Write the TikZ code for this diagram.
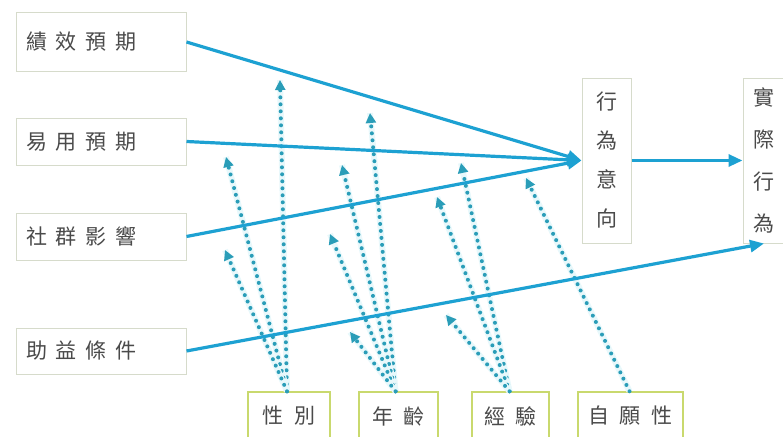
\documentclass[tikz,border=0pt]{standalone}
\usepackage{fontspec}
\newfontfamily\cjk{Noto Sans CJK TC}
\usetikzlibrary{arrows.meta,calc}
\definecolor{sol}{HTML}{1DA1D2}
\definecolor{dotc}{HTML}{2A9DB8}
\definecolor{halo}{HTML}{E8F8FB}
\definecolor{lbord}{HTML}{D6DBCB}
\definecolor{bbord}{HTML}{C9D96E}
\definecolor{txt}{HTML}{4A4A4A}
\newcommand\kgap{\hspace{9pt}}
\newcommand\kgapb{\hspace{11pt}}
\begin{document}
\begin{tikzpicture}[x=1pt,y=-1pt,
  lbox/.style={draw=lbord, line width=1pt, fill=white, minimum width=170pt,
    text width=150pt, inner xsep=10pt, inner ysep=0pt, align=left,
    font=\cjk\fontsize{21}{21}\selectfont, text=txt},
  vbox/.style={draw=lbord, line width=1pt, fill=white, inner sep=0pt,
    align=center, text=txt},
  bbox/.style={draw=bbord, line width=1.5pt, fill=white, inner sep=0pt,
    minimum height=48pt, font=\cjk\fontsize{21}{21}\selectfont, text=txt},
  solarr/.style={sol, line width=3.2pt, -{Triangle[length=14pt,width=12pt]}},
  dotarr/.style={preaction={draw=halo, line width=6pt, solid, -},
    dotc, line width=4pt, line cap=round, dash pattern=on 0pt off 7pt,
    -{Triangle[length=10pt,width=10pt]}}
]
\useasboundingbox (0,0) rectangle (783,436);

% left boxes
\node[lbox, minimum height=58pt] (jx) at (101,42) {績\kgap 效\kgap 預\kgap 期};
\node[lbox, minimum height=47pt] (yy) at (101,141.5) {易\kgap 用\kgap 預\kgap 期};
\node[lbox, minimum height=47pt] (sq) at (101,236.5) {社\kgap 群\kgap 影\kgap 響};
\node[lbox, minimum height=46pt] (zt) at (101,351) {助\kgap 益\kgap 條\kgap 件};

% right boxes
\node[vbox, minimum width=49pt, minimum height=165pt,
  font=\cjk\fontsize{21}{39}\selectfont] (xy) at (606.5,160.5) {行\\為\\意\\向};
\node[vbox, minimum width=42pt, minimum height=165pt,
  font=\cjk\fontsize{21}{42}\selectfont] (sj) at (764,160.5) {實\\際\\行\\為};

% bottom boxes
\node[bbox, minimum width=82pt] (xb) at (289,416) {性\kgapb 別};
\node[bbox, minimum width=79pt] (nl) at (398.5,416) {年\kgapb 齡};
\node[bbox, minimum width=77pt] (jy) at (510.5,416) {經\kgapb 驗};
\node[bbox, minimum width=105pt] (zy) at (630.5,416) {自\kgapb 願\kgapb 性};

% free ends of moderator arrows
\coordinate (a1) at (280,80);
\coordinate (a2) at (226,157);
\coordinate (a3) at (225,250);
\coordinate (b1) at (370,113);
\coordinate (b2) at (342,165);
\coordinate (b3) at (330,234);
\coordinate (b4) at (350,332);
\coordinate (c1) at (461,163);
\coordinate (c2) at (437,197);
\coordinate (c3) at (446,315);
\coordinate (d1) at (526,178);

% dotted moderator arrows
\draw[dotarr] ($(xb.north)+(-2,0)$) -- (a1);
\draw[dotarr] ($(xb.north)+(-2,0)$) -- (a2);
\draw[dotarr] ($(xb.north)+(-2,0)$) -- (a3);
\draw[dotarr] ($(nl.north)+(-3,0)$) -- (b1);
\draw[dotarr] ($(nl.north)+(-3,0)$) -- (b2);
\draw[dotarr] ($(nl.north)+(-3,0)$) -- (b3);
\draw[dotarr] ($(nl.north)+(-3,0)$) -- (b4);
\draw[dotarr] ($(jy.north)+(-1,0)$) -- (c1);
\draw[dotarr] ($(jy.north)+(-1,0)$) -- (c2);
\draw[dotarr] ($(jy.north)+(-1,0)$) -- (c3);
\draw[dotarr] ($(zy.north)+(-1,0)$) -- (d1);

% solid arrows
\draw[solarr] (jx.east) -- (xy.west);
\draw[solarr] (yy.east) -- (xy.west);
\draw[solarr] (sq.east) -- (xy.west);
\draw[solarr] (xy.east) -- (sj.west);
\draw[solarr] (zt.east) -- (sj.south);
\end{tikzpicture}
\end{document}
